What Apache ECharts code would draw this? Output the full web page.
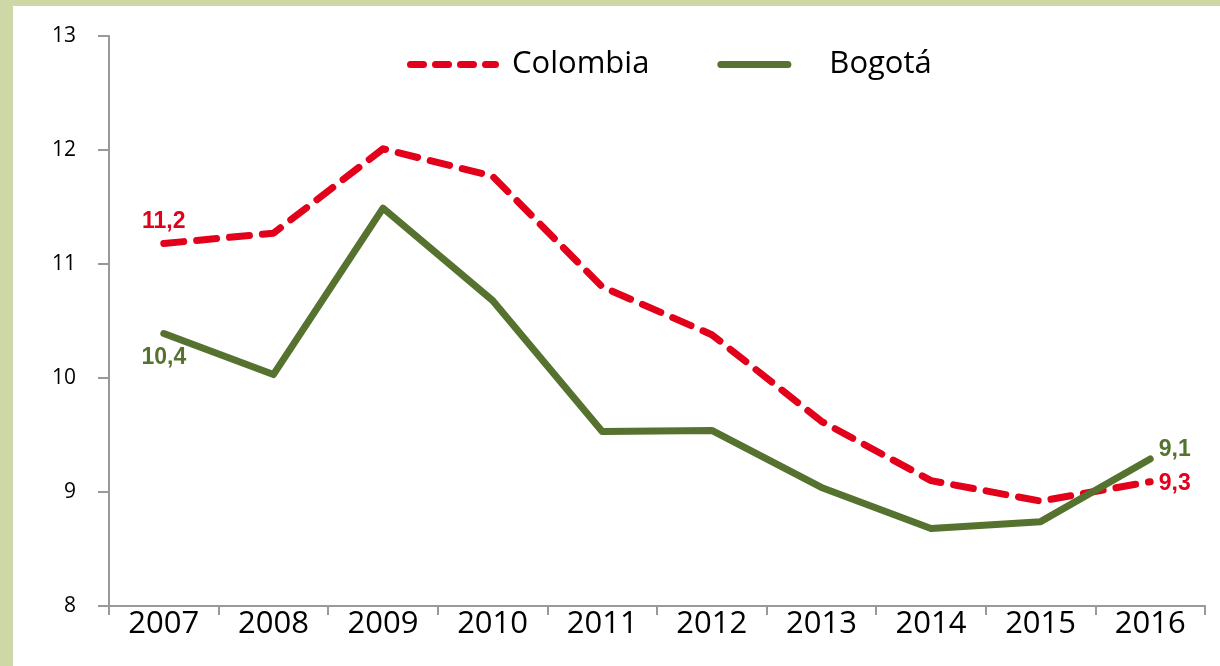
<!DOCTYPE html>
<html>
<head>
<meta charset="utf-8">
<script src="https://cdn.jsdelivr.net/npm/echarts@6/dist/echarts.min.js"></script>
<style>
  html,body{margin:0;padding:0;background:#cdd8a6;}
  #chart{position:absolute;left:13px;top:6px;width:1207px;height:660px;background:#fff;}
</style>
</head>
<body>
<div id="chart"></div>
<script>
const years=['2007','2008','2009','2010','2011','2012','2013','2014','2015','2016'];
const colombia=[11.18,11.27,12.01,11.77,10.80,10.38,9.62,9.10,8.92,9.09];
const bogota=[10.39,10.03,11.49,10.68,9.53,9.54,9.04,8.68,8.74,9.29];
const colombiaLabels=['11,2','','','','','','','','','9,3'];
const bogotaLabels=['10,4','','','','','','','','','9,1'];
const yTicks=[8,9,10,11,12,13];

const red='#e2001a';
const green='#55722f';
const font='"Open Sans", "Liberation Sans", sans-serif';

// legend icons: 4 rounded dashes / one rounded bar
const dashIcon='path://M3.5,0h13a3.5,3.5 0 0 1 0,7h-13a3.5,3.5 0 0 1 0,-7z'+
    'M28.5,0h13a3.5,3.5 0 0 1 0,7h-13a3.5,3.5 0 0 1 0,-7z'+
    'M53.5,0h13a3.5,3.5 0 0 1 0,7h-13a3.5,3.5 0 0 1 0,-7z'+
    'M78.5,0h10a3.5,3.5 0 0 1 0,7h-10a3.5,3.5 0 0 1 0,-7z';
const barIcon='path://M3.5,0h67a3.5,3.5 0 0 1 0,7h-67a3.5,3.5 0 0 1 0,-7z';

const myChart=echarts.init(document.getElementById('chart'));

// first and last points carry a label
const withLabels=(values,labels,color,firstPos,lastPos,firstDy,lastDy)=>values.map((v,i)=>{
    const txt=labels[i];
    if(!txt) return {value:v,label:{show:false}};
    const first=i===0;
    return {
        value:v,
        label:{
            show:true,
            position:first?firstPos:lastPos,
            distance:first?6:8,
            offset:[0,first?firstDy:lastDy],
            formatter:txt,
            color:color,
            fontSize:23,
            fontWeight:'bold',
            fontFamily:'"Liberation Sans", Arial, sans-serif'
        }
    };
});

const option={
    animation:false,
    grid:{left:96,top:30,right:15,bottom:60},
    legend:{
        top:38,
        left:389,
        itemWidth:92,
        itemHeight:7,
        itemGap:68,
        textStyle:{fontSize:31,fontFamily:font,color:'#000',padding:[0,0,0,8]},
        data:[
            {name:'Colombia',icon:dashIcon,itemStyle:{color:red,opacity:1}},
            {name:'Bogotá',icon:barIcon,itemStyle:{color:green,opacity:1},
             textStyle:{padding:[0,0,0,24]}}
        ]
    },
    xAxis:{
        type:'category',
        data:years,
        boundaryGap:true,
        axisLine:{lineStyle:{color:'#999',width:2}},
        axisTick:{show:true,length:9,lineStyle:{color:'#999',width:2}},
        axisLabel:{color:'#000',fontSize:31,fontFamily:font,margin:3}
    },
    yAxis:{
        type:'value',
        min:yTicks[0],
        max:yTicks[yTicks.length-1],
        interval:1,
        splitLine:{show:false},
        axisLine:{show:true,lineStyle:{color:'#999',width:2}},
        axisTick:{show:true,length:11,lineStyle:{color:'#999',width:2}},
        axisLabel:{color:'#000',fontSize:21,fontFamily:font,margin:33}
    },
    series:[
        {
            name:'Colombia',
            type:'line',
            data:withLabels(colombia,colombiaLabels,red,'top','right',-4,2),
            symbol:'circle',
            symbolSize:1,
            showSymbol:true,
            lineStyle:{color:red,width:7,type:[20,13],cap:'round',join:'round'},
            itemStyle:{color:'rgba(0,0,0,0)'}
        },
        {
            name:'Bogotá',
            type:'line',
            data:withLabels(bogota,bogotaLabels,green,'bottom','right',6,-9),
            symbol:'circle',
            symbolSize:1,
            showSymbol:true,
            lineStyle:{color:green,width:7,cap:'round',join:'round'},
            itemStyle:{color:'rgba(0,0,0,0)'}
        }
    ]
};
myChart.setOption(option);
</script>
</body>
</html>
